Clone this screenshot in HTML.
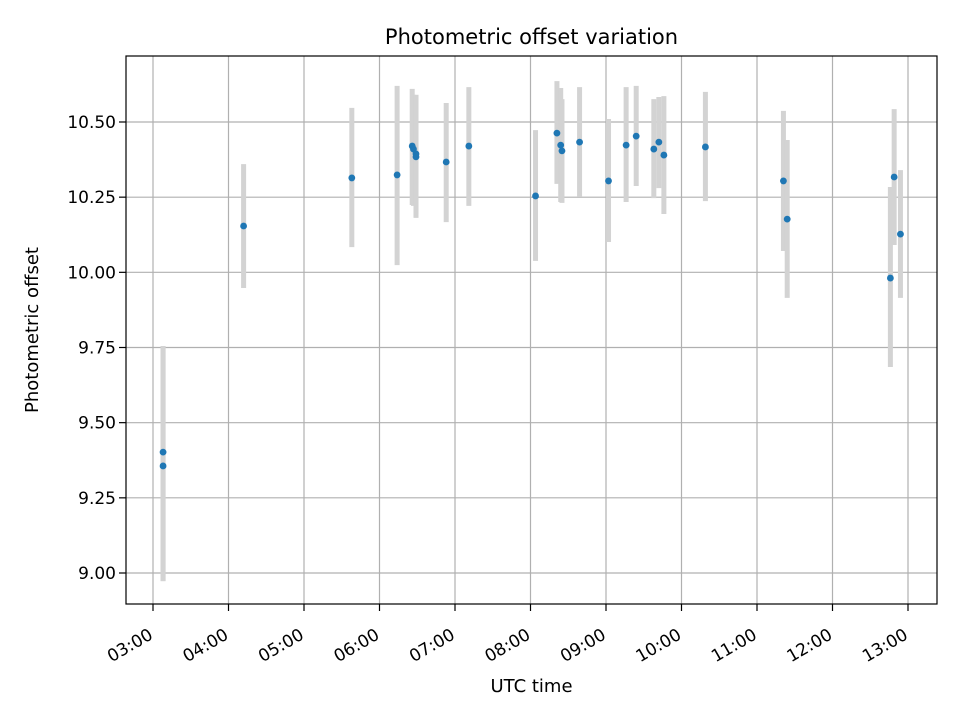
<!DOCTYPE html>
<html><head><meta charset="utf-8"><style>
body{margin:0;background:#fff}
svg text{font-family:"DejaVu Sans","Liberation Sans",sans-serif;fill:#000}
</style></head><body>
<svg id="chart" width="960" height="720" viewBox="0 0 960 720" xmlns="http://www.w3.org/2000/svg">
<rect width="960" height="720" fill="#fff"/>
<text x="531.5" y="44" font-size="21" text-anchor="middle">Photometric offset variation</text>
<g id="grid"></g><g id="bars"></g><g id="pts"></g>
<rect x="126" y="56" width="811" height="548" fill="none" stroke="#000" stroke-width="1.2"/>
<g id="axes"></g>
<text x="531.5" y="692" font-size="18" text-anchor="middle">UTC time</text>
<text transform="translate(38,330) rotate(-90)" font-size="18" text-anchor="middle">Photometric offset</text>
</svg>
<script>
const times=["03:08","03:08","04:12","05:38","06:14","06:26","06:27","06:29","06:29","06:53","07:11","08:04","08:21","08:24","08:25","08:39","09:02","09:16","09:24","09:38","09:42","09:46","10:19","11:21","11:24","12:46","12:49","12:54"];
const values=[9.402,9.356,10.154,10.314,10.324,10.420,10.410,10.394,10.384,10.367,10.420,10.254,10.463,10.423,10.404,10.433,10.304,10.423,10.453,10.410,10.433,10.390,10.417,10.304,10.177,9.981,10.317,10.127];
const upper=[9.755,9.755,10.360,10.547,10.620,10.610,10.590,10.590,10.590,10.563,10.616,10.473,10.636,10.613,10.576,10.616,10.510,10.616,10.620,10.576,10.583,10.586,10.600,10.537,10.440,10.284,10.543,10.340];
const lower=[8.973,8.973,9.948,10.084,10.024,10.224,10.221,10.194,10.181,10.167,10.221,10.038,10.294,10.234,10.231,10.251,10.101,10.234,10.287,10.247,10.280,10.194,10.237,10.071,9.915,9.685,10.091,9.915];
const yTicks=[9.00,9.25,9.50,9.75,10.00,10.25,10.50];
const xTicks=["03:00","04:00","05:00","06:00","07:00","08:00","09:00","10:00","11:00","12:00","13:00"];
const NS="http://www.w3.org/2000/svg";
function hrs(s){const p=s.split(":");return +p[0]+ +p[1]/60;}
function xs(h){return 153+(h-3)*75.5;}
function ys(v){return 573-(v-9)*300.67;}
function mk(tag,attrs,parent){const e=document.createElementNS(NS,tag);for(const k in attrs)e.setAttribute(k,attrs[k]);document.getElementById(parent).appendChild(e);return e;}
yTicks.forEach(v=>{const y=ys(v);
 let g=mk("line",{x1:126,x2:937,y1:y,y2:y,stroke:"#b0b0b0","stroke-width":1.2},"grid");
 
 
 let t=mk("line",{x1:119,x2:126,y1:y,y2:y,stroke:"#000","stroke-width":1.2},"axes");
 
 
 let l=mk("text",{x:116,y:y+6,"font-size":17,"text-anchor":"end"},"axes");l.textContent=v.toFixed(2);
 
 
});
xTicks.forEach(s=>{const x=xs(hrs(s));
 let g=mk("line",{x1:x,x2:x,y1:56,y2:604,stroke:"#b0b0b0","stroke-width":1.2},"grid");
 
 
 let t=mk("line",{x1:x,x2:x,y1:604,y2:611,stroke:"#000","stroke-width":1.2},"axes");
 
 
 let l=mk("text",{x:0,y:0,"font-size":17,"text-anchor":"end",transform:`translate(${x+1},${638}) rotate(-30)`},"axes");l.textContent=s;
 
 
});
times.forEach((s,i)=>{const x=xs(hrs(s));
 let b=mk("line",{x1:x,x2:x,y1:ys(upper[i]),y2:ys(lower[i]),stroke:"#d3d3d3","stroke-width":5},"bars");
 
 
});
times.forEach((s,i)=>{const x=xs(hrs(s));
 let p=mk("circle",{cx:x,cy:ys(values[i]),r:3.4,fill:"#1f77b4"},"pts");
 
 
});
</script>
</body></html>
